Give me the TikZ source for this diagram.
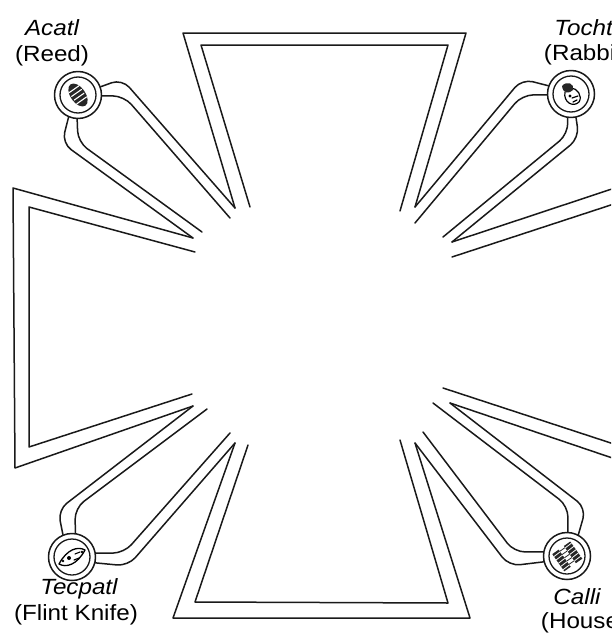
\documentclass[tikz,border=0pt]{standalone}
\usepackage{fontspec}
\setmainfont{Liberation Sans}
\newfontfamily\labelfont{Liberation Sans}[FakeStretch=1.1]
\begin{document}
\begin{tikzpicture}[x=1pt,y=-1pt,line cap=round,line join=round,
  band/.style={draw=black!90,line width=1.5pt},
  loopline/.style={band,rounded corners=11pt},
  medallion/.style={circle,draw=black!90,line width=1.5pt,minimum size=47pt,inner sep=0pt},
  ring/.style={draw=black!90,line width=1.3pt},
  glyph/.style={fill=black!85},
  dayname/.style={font=\labelfont\fontsize{22}{24}\selectfont\itshape,anchor=base},
  gloss/.style={font=\labelfont\fontsize{22}{24}\selectfont,anchor=base}]
\useasboundingbox (0,0) rectangle (611,640);
\clip (0,0) rectangle (611,640);

% inner meeting points of the outer contour
\coordinate (vTL) at (235,208);
\coordinate (vTR) at (415,207);
\coordinate (vRT) at (452,242);
\coordinate (vRB) at (450,403);
\coordinate (vBR) at (415,443);
\coordinate (vBL) at (235,443);
\coordinate (vLB) at (193,406);
\coordinate (vLT) at (193,238);

% medallions
\node[medallion] (reed)   at (78,95)   {};
\node[medallion] (rabbit) at (571,94)  {};
\node[medallion] (flint)  at (72,557)  {};
\node[medallion] (calli)  at (567,556) {};
\foreach \m in {reed,rabbit,flint,calli} \draw[ring] (\m) circle (18pt);

% the four arms: outer and inner outlines
\draw[band] (vTL) -- (183,33) -- (466,33) -- (vTR);
\draw[band] (250,207) -- (201,45) -- (448,45) -- (400,211);
\draw[band] (vLT) -- (13,188) -- (15,468) -- (vLB);
\draw[band] (195,252) -- (29,207) -- (29,447) -- (192,394);
\draw[band] (vBL) -- (173,618) -- (470,618) -- (vBR);
\draw[band] (248,445) -- (195,602) -- (448,603) -- (400,440);
\draw[band] (vRT) -- (636,181) -- (636,466) -- (vRB);
\draw[band] (452,257) -- (620,202) -- (620,446) -- (443,388);

% loops from the centre out to each medallion
\draw[loopline] (reed.20)   -- (122,79)  -- (vTL);
\draw[loopline] (reed.-2)   -- (124,96)  -- (230,218);
\draw[loopline] (reed.-113) -- (62,143)  -- (vLT);
\draw[loopline] (reed.-92)  -- (78,142)  -- (202,232);

\draw[loopline] (rabbit.160) -- (522,79)  -- (vTR);
\draw[loopline] (rabbit.182) -- (522,95)  -- (415,223);
\draw[loopline] (rabbit.282) -- (579,138) -- (vRT);
\draw[loopline] (rabbit.262) -- (568,134) -- (443,237);

\draw[loopline] (flint.112) -- (58,510)  -- (vLB);
\draw[loopline] (flint.82)  -- (75,508)  -- (207,409);
\draw[loopline] (flint.-14) -- (128,566) -- (vBL);
\draw[loopline] (flint.9)   -- (124,553) -- (230,433);

\draw[loopline] (calli.62)  -- (586,508) -- (vRB);
\draw[loopline] (calli.88)  -- (568,506) -- (433,403);
\draw[loopline] (calli.194) -- (509,566) -- (vBR);
\draw[loopline] (calli.170) -- (514,552) -- (423,432);

% reed bundle
\begin{scope}[shift={(reed.center)},rotate=-55]
  \fill[glyph] (0,0) ellipse [x radius=13pt,y radius=7.5pt];
  \foreach \s in {-7,-2.5,2,6.5} \draw[white,line width=1.1pt] (\s,-6) -- (\s,6);
\end{scope}
% rabbit head
\begin{scope}[shift={(rabbit.center)}]
  \draw[line width=1.2pt] (-6,-2) .. controls (-8,8) and (2,14) .. (8,8) .. controls (12,2) and (6,-6) .. (0,-6);
  \fill[glyph] (-9,-8) .. controls (-4,-14) and (4,-10) .. (2,-4) .. controls (-2,0) and (-8,0) .. (-9,-8) -- cycle;
  \draw[line width=1.2pt] (1,4) -- (7,2) (2,8) -- (6,6);
  \fill (-1,2) circle (1.6pt);
\end{scope}
% flint knife
\begin{scope}[shift={(flint.center)}]
  \draw[line width=1.3pt] (-13,7) .. controls (-5,-8) and (6,-11) .. (13,-7) .. controls (5,8) and (-6,11) .. (-13,7) -- cycle;
  \fill (-3,1) circle (2pt);
  \draw[line width=1.1pt] (3,-3) -- (8,-5) (2,3) -- (7,1);
  \fill (-9,4) circle (1.3pt) (10,-5) circle (1.3pt);
\end{scope}
% house
\begin{scope}[shift={(calli.center)},rotate=35]
  \fill[glyph] (-11,-10) rectangle (11,11);
  \foreach \s in {-8,-4,0,4,8} \draw[white,line width=0.8pt] (-11,\s+1) -- (11,\s);
  \fill[white] (-3,-12) rectangle (3,12);
  \foreach \s in {-8,-4,0,4,8} \draw[black!85,line width=0.8pt] (-3,\s) -- (3,\s);
\end{scope}

% day-sign labels
\node[dayname] (tAcatl)  at (52,35)   {Acatl};
\node[gloss]   (tReed)   at (52,61)   {(Reed)};
\node[dayname] (tToch)   at (589,35)  {Tochtli};
\node[gloss]   (tRabbit) at (587,60)  {(Rabbit)};
\node[dayname] (tTec)    at (79,594)  {Tecpatl};
\node[gloss]   (tFlint)  at (76,620)  {(Flint Knife)};
\node[dayname] (tCalli)  at (577,604) {Calli};
\node[gloss]   (tHouse)  at (584,628) {(House)};
\end{tikzpicture}
\end{document}
